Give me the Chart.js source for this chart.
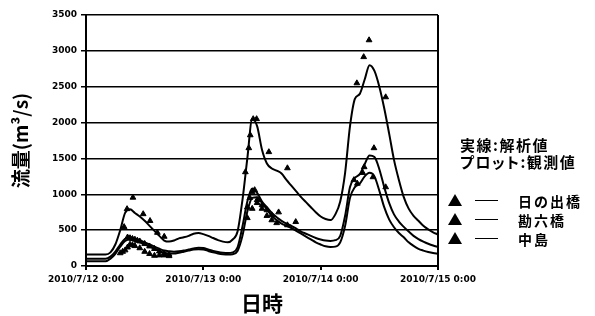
<!DOCTYPE html>
<html>
<head>
<meta charset="utf-8">
<script src="https://cdn.jsdelivr.net/npm/chart.js@4.4.1/dist/chart.umd.min.js"></script>
<style>
body{margin:0;background:#fff}
#wrap{position:relative;width:595px;height:316px}
.note{position:absolute;left:460px;font:bold 15px "Noto Sans CJK JP";letter-spacing:1.5px;color:#000;white-space:nowrap;line-height:18px}
.row{position:absolute;left:448px;height:20px;width:150px}
.tri{position:absolute;left:0;top:3px;width:0;height:0;border-left:7px solid transparent;border-right:7px solid transparent;border-bottom:12px solid #000}
.ln{position:absolute;left:27px;top:9px;width:23px;height:0;border-top:1.5px solid #000}
.lab{position:absolute;left:70px;top:0;font:bold 14px "Noto Sans CJK JP";letter-spacing:2px;line-height:20px;color:#000;white-space:nowrap}
</style>
</head>
<body>
<div id="wrap">
<canvas id="flowChart"></canvas>
<div class="note" style="top:136px">実線:解析値</div>
<div class="note" style="top:153px;font-feature-settings:'palt'">プロット:観測値</div>
<div id="legend"></div>
</div>
<script>

// hours from 2010/7/12 0:00
let dateLabels=["2010/7/12 0:00","2010/7/13 0:00","2010/7/14 0:00","2010/7/15 0:00"]
let stations=["日の出橋","勘六橋","中島"]

let calcHours=[0,4,5,6,7,8,9,10,11,12,13,14,15,16,17,18,19,20,21,22,23,24,25,26,27,28,29,30,31,32,33,34,35,36,37,38,39,40,41,42,43,44,45,46,47,48,49,50,51,52,53,54,55,56,57,58,59,60,61,62,63,64,65,66,67,68,69,70,71,72]

let hinodeCalc=[160,160,190,300,500,740,790,740,690,630,560,490,420,355,340,355,385,400,420,450,460,445,420,390,360,340,330,370,480,920,1500,2050,1950,1620,1430,1360,1330,1290,1200,1120,1040,960,890,820,750,690,655,640,720,900,1300,1950,2330,2400,2600,2800,2720,2500,2200,1850,1480,1200,960,800,700,630,560,510,470,440]
let kanrokuCalc=[100,100,130,200,300,380,400,380,360,330,300,270,240,215,205,200,205,215,230,245,255,250,230,210,195,185,180,190,260,550,900,1080,1020,900,820,740,680,630,590,560,520,480,450,420,390,370,355,350,360,420,700,1100,1230,1280,1420,1540,1520,1350,1100,880,720,620,545,480,420,375,340,310,285,265]
let nakajimaCalc=[65,65,100,170,270,350,370,350,330,300,270,240,210,185,175,175,185,200,215,230,235,230,210,190,175,165,160,165,210,420,760,950,960,880,790,700,640,590,560,530,490,450,410,370,330,300,275,265,270,330,560,950,1100,1150,1250,1300,1250,1050,820,650,540,460,400,330,280,240,215,195,180,170]

let hinodeObsHours=[8.4,9.6,11.7,13.1,14.6,16,32.6,33.3,33.6,34.2,34.9,37.4,41.2,55.4,56.8,57.9,61.3]
let hinodeObs=[795,955,725,630,465,410,1310,1645,1825,2050,2050,1590,1365,2550,2915,3150,2355]

let kanrokuObsHours=[7.8,8.5,9,9.5,10,10.5,11,12,13,14,15,16,17,33,33.5,34,34.5,35,36,37,38,39.4,42.9,54.8,56.9,58.9,61.3]
let kanrokuObs=[545,400,390,380,370,355,345,310,275,240,205,175,160,820,950,1030,1060,920,850,780,710,750,615,1200,1380,1645,1100]

let nakajimaObsHours=[7,7.5,8,8.5,9,9.5,10,11,12,13,14,15,16,17,33,34,35,36,37,38,39,41.2,55.5,56.6,58.7]
let nakajimaObs=[180,200,220,260,300,290,280,250,200,170,145,150,150,140,670,800,880,800,700,640,600,570,1150,1300,1240]

function pts(xs,ys){
return xs.map((x,i)=>({x:x,y:ys[i]}))
}

function calcSet(name,ys){
return {
label:name+" 解析値",
data:pts(calcHours,ys),
borderColor:"#000",
borderWidth:2,
pointRadius:0,
tension:0.3,
cubicInterpolationMode:"monotone",
fill:false
}
}

function obsSet(name,xs,ys){
return {
label:name+" 観測値",
data:pts(xs,ys),
showLine:false,
pointStyle:"triangle",
pointRadius:3.3,
backgroundColor:"#000",
borderColor:"#000",
borderWidth:1
}
}

let tickFont={family:"DejaVu Sans",size:9,weight:"bold"}

new Chart(document.getElementById("flowChart"),{

type:"line",

data:{
datasets:[
calcSet(stations[0],hinodeCalc),
calcSet(stations[1],kanrokuCalc),
calcSet(stations[2],nakajimaCalc),
obsSet(stations[0],hinodeObsHours,hinodeObs),
obsSet(stations[1],kanrokuObsHours,kanrokuObs),
obsSet(stations[2],nakajimaObsHours,nakajimaObs)
]
},

options:{
responsive:true,
maintainAspectRatio:false,
animation:false,
events:[],
layout:{padding:{top:15,right:157,bottom:0,left:0}},
plugins:{legend:{display:false},tooltip:{enabled:false}},
scales:{
x:{
type:"linear",
min:0,
max:72,
afterFit:s=>{s.height=50},
ticks:{
stepSize:24,
autoSkip:false,
maxRotation:0,
color:"#000",
font:tickFont,
padding:4,
callback:v=>dateLabels[v/24]
},
grid:{
color:c=>c.tick&&c.tick.value===72?"#000":"rgba(0,0,0,0)",
lineWidth:2,
tickColor:"#000",
tickLength:4
},
border:{color:"#000",width:2},
title:{display:true,text:"日時",color:"#000",font:{family:"Noto Sans CJK JP",size:21,weight:"bold"},padding:{top:0,bottom:0}}
},
y:{
min:0,
max:3500,
afterFit:s=>{s.width=86},
ticks:{stepSize:500,color:"#000",font:tickFont,padding:4,callback:v=>String(v)},
grid:{color:"#000",lineWidth:1.5,tickLength:5},
border:{color:"#000",width:2},
title:{display:true,text:"流量(m³/s)",color:"#000",font:{family:"Noto Sans CJK JP",size:19,weight:"bold"},padding:{top:9,bottom:0}}
}
}
}

})

// legend: triangle + line + station name
let legendTops=[191,210,229]
let legend=document.getElementById("legend")
stations.forEach((s,i)=>{
let row=document.createElement("div")
row.className="row"
row.style.top=legendTops[i]+"px"
row.innerHTML=`<div class="tri"></div><div class="ln"></div><div class="lab">${s}</div>`
legend.appendChild(row)
})

</script>
</body>
</html>
